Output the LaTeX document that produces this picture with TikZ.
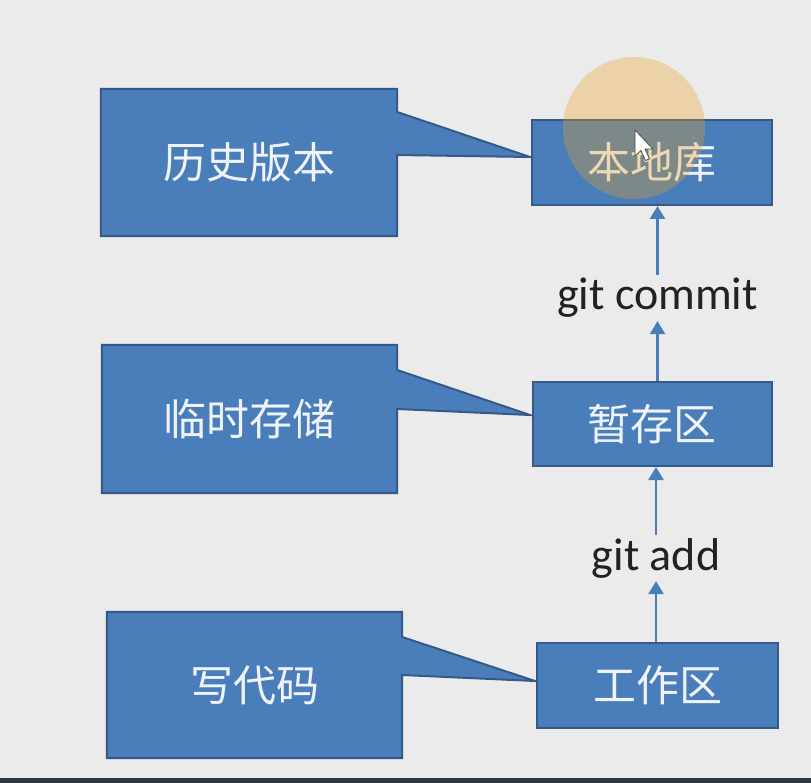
\documentclass[tikz,border=0pt]{standalone}
\usepackage{fontspec}
\newfontfamily\cjk{Noto Sans CJK SC}
\newfontfamily\lab{Carlito}
\usetikzlibrary{arrows.meta}
\pgfdeclarelayer{bg}
\pgfdeclarelayer{page}
\pgfsetlayers{page,bg,main}
\definecolor{pagebg}{HTML}{EBEBEB}
\definecolor{boxblue}{HTML}{4A7EBB}
\definecolor{boxline}{HTML}{355A88}
\definecolor{boxtext}{HTML}{F0F4FA}
\definecolor{labtext}{HTML}{222222}
\definecolor{barcol}{HTML}{30383D}
\definecolor{halo}{RGB}{235,160,31}
\tikzset{
  x=1pt,y=-1pt,
  bluebox/.style={fill=boxblue,draw=boxline,line width=2pt,inner sep=0pt,
    text=boxtext,font=\cjk\fontsize{43}{50}\selectfont},
  calltext/.style={inner sep=0pt,text=boxtext,font=\cjk\fontsize{43}{50}\selectfont},
  callshape/.style={fill=boxblue,draw=boxline,line width=2pt,line join=miter},
  cmdlabel/.style={inner sep=3pt,text=labtext,font=\lab\fontsize{46}{50}\selectfont,anchor=base},
  flow/.style={draw=boxblue,line width=2.5pt,-{Triangle[width=15pt,length=13pt]}}
}
\begin{document}
\begin{tikzpicture}
\begin{pgfonlayer}{page}
\fill[pagebg] (0,0) rectangle (811,783);
\fill[barcol] (0,778) rectangle (811,783);
\end{pgfonlayer}
\useasboundingbox (0,0) rectangle (811,783);

% right-hand boxes
\node[bluebox,minimum width=240pt,minimum height=85pt] (repo) at (652,162.5) {本地库};
\node[bluebox,minimum width=239pt,minimum height=84pt] (stage) at (652,424) {暂存区};
\node[bluebox,minimum width=241pt,minimum height=85pt] (work) at (657.5,685.5) {工作区};

% callout texts (shapes drawn on background layer)
\node[calltext,minimum width=296pt,minimum height=147pt] (h1) at (249,162.5) {历史版本};
\node[calltext,minimum width=295pt,minimum height=148pt] (h2) at (249.5,419) {临时存储};
\node[calltext,minimum width=295pt,minimum height=146pt] (h3) at (254.5,685) {写代码};

\coordinate (t1) at (530,157);
\coordinate (t2) at (530,415);
\coordinate (t3) at (535,681);

\begin{pgfonlayer}{bg}
\draw[callshape] (h1.north west) -- (h1.north east) -- (h1.north east |- 0,112) -- (t1)
  -- (h1.north east |- 0,155) -- (h1.south east) -- (h1.south west) -- cycle;
\draw[callshape] (h2.north west) -- (h2.north east) -- (h2.north east |- 0,370) -- (t2)
  -- (h2.north east |- 0,409) -- (h2.south east) -- (h2.south west) -- cycle;
\draw[callshape] (h3.north west) -- (h3.north east) -- (h3.north east |- 0,637) -- (t3)
  -- (h3.north east |- 0,675) -- (h3.south east) -- (h3.south west) -- cycle;
\end{pgfonlayer}

% command labels
\node[cmdlabel] (cmt) at (657.5,310) {git commit};
\node[cmdlabel] (add) at (656,570) {git add};

% arrows
\draw[flow] (cmt.south |- stage.north) -- (cmt.south);
\draw[flow] (cmt.north) -- (cmt.north |- repo.south);
\draw[flow] (add.south |- work.north) -- (add.south);
\draw[flow] (add.north) -- (add.north |- stage.south);

% cursor highlight
\fill[halo,opacity=0.32] (634,128) circle[radius=71];
\draw[fill=white,draw=black!70,line width=0.8pt,line join=round]
  (635,130) -- (635,156) -- (641,150.5) -- (645.5,160.5) -- (649.5,158.8)
  -- (645,149) -- (653,149) -- cycle;
\end{tikzpicture}
\end{document}
